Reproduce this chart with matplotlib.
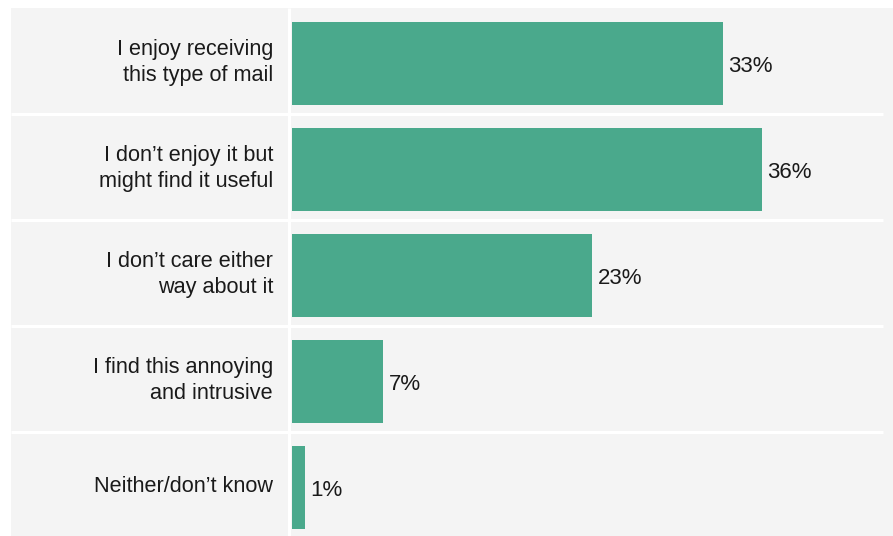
import numpy as np
import matplotlib.pyplot as plt
from matplotlib.patches import Rectangle

plt.rcParams['font.family'] = ['Liberation Sans', 'DejaVu Sans']

# === Данные ===
categories = [
    "I enjoy receiving\nthis type of mail",
    "I don\u2019t enjoy it but\nmight find it useful",
    "I don\u2019t care either\nway about it",
    "I find this annoying\nand intrusive",
    "Neither/don\u2019t know",
]
values = [33, 36, 23, 7, 1]

bar_color = '#4aa98c'
bg_color = '#f4f4f4'
text_color = '#1a1a1a'

# пиксели -> данные (x в %, y в номерах строк)
PX_PER_PCT = 13.06
X0_PX = 292
ROW_PX = 106
Y0_PX = 63.5


def vx(px):
    return (px - X0_PX) / PX_PER_PCT


def vy(py):
    return (py - Y0_PX) / ROW_PX


fig = plt.figure(figsize=(8.93, 5.36), dpi=100)
ax = fig.add_axes([0, 0, 1, 1])
ax.set_xlim(vx(0), vx(893))
ax.set_ylim(vy(536), vy(0))
ax.axis('off')

# серый фон
ax.add_patch(Rectangle((vx(11), vy(8)), vx(900) - vx(11), vy(545) - vy(8),
                       facecolor=bg_color, edgecolor='none', zorder=0))

# белые разделители строк и колонок
n = len(categories)
for k in range(n - 1):
    ax.plot([vx(11), vx(883)], [k + 0.475, k + 0.475],
            color='white', lw=2.2, solid_capstyle='butt', zorder=1)
ax.plot([vx(288.7), vx(288.7)], [vy(8), vy(545)],
        color='white', lw=2.2, solid_capstyle='butt', zorder=1)

y = np.arange(n)
ax.barh(y, values, height=83 / ROW_PX, left=0, color=bar_color, zorder=2)

for yi, cat, val in zip(y, categories, values):
    ax.text(vx(273), yi - 0.01, cat, ha='right', va='center', fontsize=15.6,
            color=text_color, linespacing=1.27, zorder=3)
    ax.text(val + 5 / PX_PER_PCT, yi + 0.025, f'{val}%', ha='left', va='center',
            fontsize=16, color=text_color, zorder=3)

fig.savefig('out.png', dpi=100, facecolor='white')
